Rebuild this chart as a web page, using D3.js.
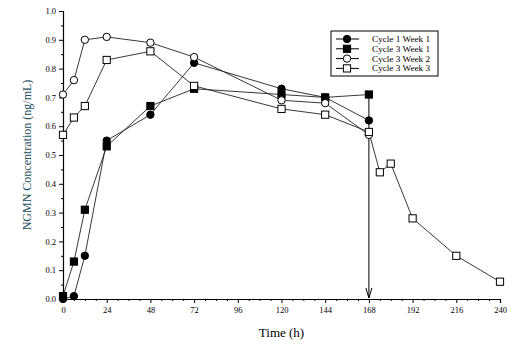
<!DOCTYPE html>
<html>
<head>
<meta charset="utf-8">
<script src="https://cdn.jsdelivr.net/npm/d3@7"></script>
<style>
  body { margin: 0; background: #fff; }
  svg { display: block; font-family: "Liberation Serif", "DejaVu Serif", serif; }
</style>
</head>
<body>
<div id="chart"></div>
<script>
// data
const timesShort = [0, 6, 12, 24, 48, 72, 120, 144, 168]
const timesLong = [0, 6, 12, 24, 48, 72, 120, 144, 168, 174, 180, 192, 216, 240]

const c1w1 = [0.00, 0.01, 0.15, 0.55, 0.64, 0.82, 0.73, 0.70, 0.62]
const c3w1 = [0.01, 0.13, 0.31, 0.53, 0.67, 0.73, 0.71, 0.70, 0.71]
const c3w2 = [0.71, 0.76, 0.90, 0.91, 0.89, 0.84, 0.69, 0.68, 0.57]
const c3w3 = [0.57, 0.63, 0.67, 0.83, 0.86, 0.74, 0.66, 0.64, 0.58, 0.44, 0.47, 0.28, 0.15, 0.06]

const xTicks = [0, 24, 48, 72, 96, 120, 144, 168, 192, 216, 240]
const yTicks = [0, 0.1, 0.2, 0.3, 0.4, 0.5, 0.6, 0.7, 0.8, 0.9, 1.0]
const arrowTime = 168

const series = [
  {name: "Cycle 1 Week 1", t: timesShort, v: c1w1, shape: "circle", fill: "#000"},
  {name: "Cycle 3 Week 1", t: timesShort, v: c3w1, shape: "square", fill: "#000"},
  {name: "Cycle 3 Week 2", t: timesShort, v: c3w2, shape: "circle", fill: "#fff"},
  {name: "Cycle 3 Week 3", t: timesLong, v: c3w3, shape: "square", fill: "#fff"}
]

const width = 519
const height = 352
const margin = {top: 11, right: 19, bottom: 53, left: 63}

const svg = d3.select("#chart").append("svg")
  .attr("width", width)
  .attr("height", height)

const xScale = d3.scaleLinear().domain([0, 240]).range([margin.left, width - margin.right])
const yScale = d3.scaleLinear().domain([0, 1]).range([height - margin.bottom, margin.top])

// axes
svg.append("g")
  .attr("transform", `translate(0,${yScale(0)})`)
  .call(d3.axisBottom(xScale).tickValues(xTicks).tickFormat(d3.format("d")).tickSize(4).tickPadding(4))
svg.append("g")
  .attr("transform", `translate(0,${yScale(0)})`)
  .call(d3.axisBottom(xScale).tickValues(d3.range(0, 241, 6).filter(d => d % 24 != 0)).tickFormat("").tickSize(2))
  .call(g => g.select(".domain").remove())

svg.append("g")
  .attr("transform", `translate(${xScale(0)},0)`)
  .call(d3.axisLeft(yScale).tickValues(yTicks).tickFormat(d3.format(".1f")).tickSize(4).tickPadding(3))
svg.append("g")
  .attr("transform", `translate(${xScale(0)},0)`)
  .call(d3.axisLeft(yScale).tickValues(d3.range(0.05, 1, 0.1)).tickFormat("").tickSize(2))
  .call(g => g.select(".domain").remove())

svg.selectAll(".domain").attr("stroke", "#000").attr("stroke-width", 1.2)
svg.selectAll(".tick line").attr("stroke", "#000")
svg.selectAll(".tick text")
  .attr("font-family", "Liberation Serif, serif")
  .attr("font-size", 8.5)
  .attr("fill", "#000")

// titles
svg.append("text")
  .attr("x", (xScale(0) + xScale(240)) / 2)
  .attr("y", 337)
  .attr("text-anchor", "middle")
  .attr("font-size", 13)
  .text("Time (h)")

svg.append("text")
  .attr("transform", `translate(31,${(yScale(0) + yScale(1)) / 2}) rotate(-90)`)
  .attr("text-anchor", "middle")
  .attr("font-size", 12)
  .attr("fill", "#27505e")
  .text("NGMN Concentration (ng/mL)")

// dosing arrow
const c3w1Top = yScale(c3w1[timesShort.indexOf(arrowTime)])
svg.append("line")
  .attr("x1", xScale(arrowTime)).attr("x2", xScale(arrowTime))
  .attr("y1", c3w1Top).attr("y2", yScale(0) - 1)
  .attr("stroke", "#000").attr("stroke-width", 1)
svg.append("path")
  .attr("d", `M${xScale(arrowTime) - 3},${yScale(0) - 11} L${xScale(arrowTime)},${yScale(0) - 1} L${xScale(arrowTime) + 3},${yScale(0) - 11}`)
  .attr("fill", "none").attr("stroke", "#000").attr("stroke-width", 1)

const line = d3.line().x(d => xScale(d[0])).y(d => yScale(d[1]))

function drawMarker(g, shape, fill, x, y) {
  if (shape == "circle") {
    g.append("circle").attr("cx", x).attr("cy", y).attr("r", 3.7)
      .attr("fill", fill).attr("stroke", "#000").attr("stroke-width", 1)
  } else {
    g.append("rect").attr("x", x - 3.6).attr("y", y - 3.6).attr("width", 7.2).attr("height", 7.2)
      .attr("fill", fill).attr("stroke", "#000").attr("stroke-width", 1)
  }
}

// lines first, then markers
const lines = svg.append("g")
const marks = svg.append("g")
series.forEach(s => {
  const pts = s.t.map((t, i) => [t, s.v[i]])
  lines.append("path")
    .attr("d", line(pts))
    .attr("fill", "none")
    .attr("stroke", "#222")
    .attr("stroke-width", 0.9)
  pts.forEach(p => drawMarker(marks, s.shape, s.fill, xScale(p[0]), yScale(p[1])))
})

// legend
const legend = svg.append("g").attr("transform", "translate(331,31)")
legend.append("rect")
  .attr("width", 107).attr("height", 45)
  .attr("fill", "#fff").attr("stroke", "#000").attr("stroke-width", 1)
series.forEach((s, i) => {
  const y = 8 + i * 9.8
  legend.append("line").attr("x1", 5).attr("x2", 28).attr("y1", y).attr("y2", y)
    .attr("stroke", "#000").attr("stroke-width", 1)
  drawMarker(legend, s.shape, s.fill, 16, y)
  legend.append("text")
    .attr("x", 41).attr("y", y + 3)
    .attr("font-size", 9.2)
    .text(s.name)
})
</script>
</body>
</html>
